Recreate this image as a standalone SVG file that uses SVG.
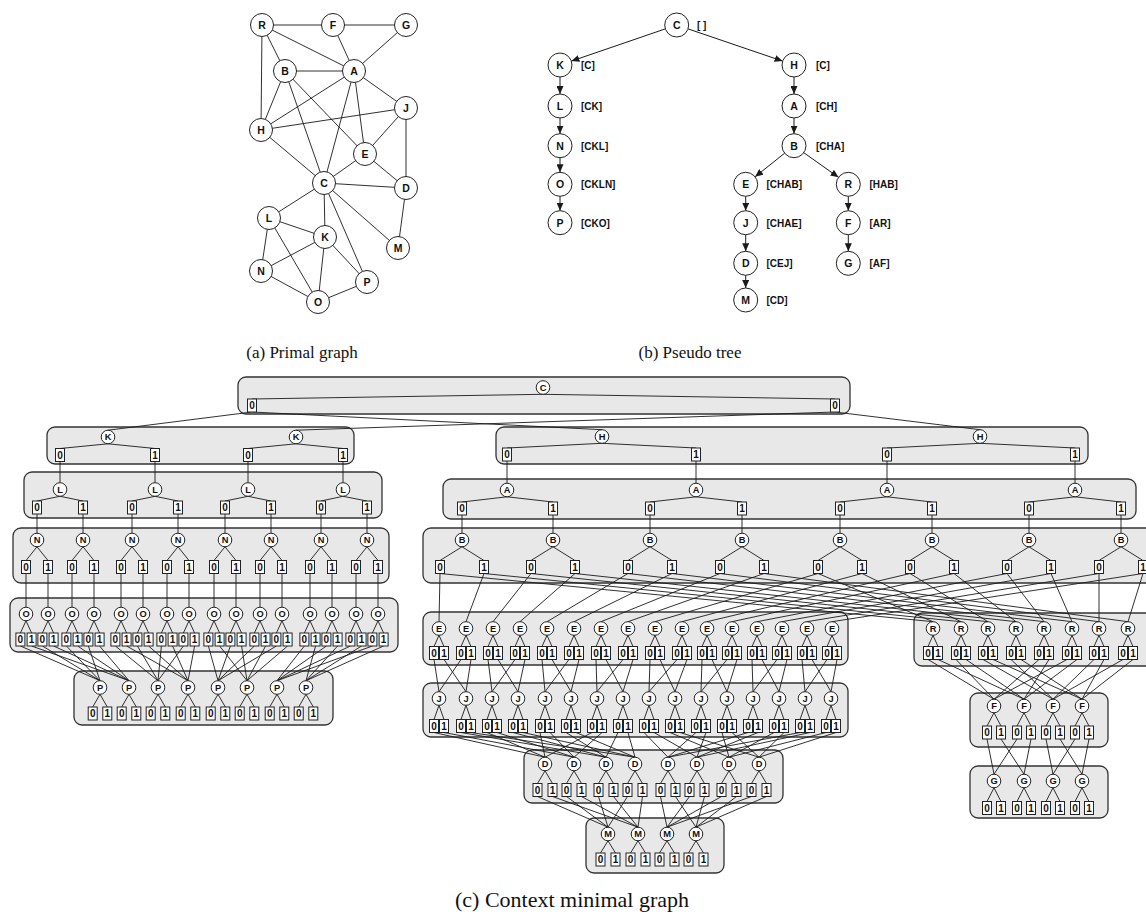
<svg xmlns="http://www.w3.org/2000/svg" width="1146" height="917" viewBox="0 0 1146 917">
<style>
text{font-family:"Liberation Sans",Arial,sans-serif;font-weight:bold;text-anchor:middle;fill:#111}
.pg circle,.pt circle{fill:#fff;stroke:#222;stroke-width:1}
.pg text,.pt text{font-size:10.5px}
.pt .lb{text-anchor:start;font-size:10px}
.cap{font-family:"Liberation Serif","Times New Roman",serif;font-weight:normal;font-size:17px}
.lay rect{fill:#e8e8e8;stroke:#333;stroke-width:1.3}
.cm circle{fill:#fff;stroke:#222;stroke-width:1}
.cm rect{fill:#fff;stroke:#222;stroke-width:1}
.cm text{font-size:10px}
.cm .s{font-size:9.3px}
.ln{fill:none;stroke:#1a1a1a;stroke-width:0.9}
.ar{fill:none;stroke:#1a1a1a;stroke-width:1;marker-end:url(#ah)}
</style>
<defs>
<marker id="ah" markerUnits="userSpaceOnUse" markerWidth="8" markerHeight="7" refX="8" refY="3.5" orient="auto"><path d="M0,0L8,3.5L0,7z" fill="#1a1a1a"/></marker>
</defs>
<rect width="1146" height="917" fill="#fff"/>

<!-- (a) Primal graph -->
<g id="primal-edges" class="ln">
<path d="M262 25L333 25M333 25L406 25M262 25L285 71M262 25L354 71M262 25L261 130M333 25L354 71M406 25L354 71M285 71L354 71M285 71L261 130M285 71L324 183M285 71L365 154M354 71L261 130M354 71L324 183M354 71L365 154M354 71L406 108M261 130L406 108M261 130L324 183M406 108L365 154M406 108L406 188M365 154L324 183M365 154L406 188M324 183L406 188M324 183L269 218M324 183L325 237M324 183L367 282M324 183L398 248M406 188L398 248M269 218L325 237M269 218L261 271M269 218L318 302M325 237L261 271M325 237L318 302M325 237L367 282M261 271L318 302M318 302L367 282"/>
</g>
<g class="pg">
<g id="a-R"><circle cx="262" cy="25" r="11.5"/><text x="262" y="28.8">R</text></g>
<g id="a-F"><circle cx="333" cy="25" r="11.5"/><text x="333" y="28.8">F</text></g>
<g id="a-G"><circle cx="406" cy="25" r="11.5"/><text x="406" y="28.8">G</text></g>
<g id="a-B"><circle cx="285" cy="71" r="11.5"/><text x="285" y="74.8">B</text></g>
<g id="a-A"><circle cx="354" cy="71" r="11.5"/><text x="354" y="74.8">A</text></g>
<g id="a-J"><circle cx="406" cy="108" r="11.5"/><text x="406" y="111.8">J</text></g>
<g id="a-H"><circle cx="261" cy="130" r="11.5"/><text x="261" y="133.8">H</text></g>
<g id="a-E"><circle cx="365" cy="154" r="11.5"/><text x="365" y="157.8">E</text></g>
<g id="a-C"><circle cx="324" cy="183" r="11.5"/><text x="324" y="186.8">C</text></g>
<g id="a-D"><circle cx="406" cy="188" r="11.5"/><text x="406" y="191.8">D</text></g>
<g id="a-L"><circle cx="269" cy="218" r="11.5"/><text x="269" y="221.8">L</text></g>
<g id="a-K"><circle cx="325" cy="237" r="11.5"/><text x="325" y="240.8">K</text></g>
<g id="a-M"><circle cx="398" cy="248" r="11.5"/><text x="398" y="251.8">M</text></g>
<g id="a-N"><circle cx="261" cy="271" r="11.5"/><text x="261" y="274.8">N</text></g>
<g id="a-P"><circle cx="367" cy="282" r="11.5"/><text x="367" y="285.8">P</text></g>
<g id="a-O"><circle cx="318" cy="302" r="11.5"/><text x="318" y="305.8">O</text></g>
</g>
<text class="cap" x="302" y="358">(a)  Primal graph</text>

<!-- (b) Pseudo tree -->
<g id="pseudo-edges">
<path class="ar" d="M665.3 28.9L571.4 61.1"/>
<path class="ar" d="M688.1 28.9L782.6 61.1"/>
<path class="ar" d="M560 77L560 94"/>
<path class="ar" d="M560 118L560 133.7"/>
<path class="ar" d="M560 157.7L560 172.3"/>
<path class="ar" d="M560 196.3L560 210.7"/>
<path class="ar" d="M794 77L794 94"/>
<path class="ar" d="M794 118L794 133.7"/>
<path class="ar" d="M784.6 153.2L755.1 176.8"/>
<path class="ar" d="M803.8 152.7L838.5 177.3"/>
<path class="ar" d="M745.7 196.3L745.7 210.7"/>
<path class="ar" d="M745.7 234.7L745.7 251.3"/>
<path class="ar" d="M745.7 275.3L745.7 288"/>
<path class="ar" d="M848.3 196.3L848.3 210.7"/>
<path class="ar" d="M848.3 234.7L848.3 251.3"/>
</g>
<g class="pt">
<g id="b-C"><circle cx="676.7" cy="25" r="12"/><text x="676.7" y="28.8">C</text><text class="lb" x="697" y="28.8">[ ]</text></g>
<g id="b-K"><circle cx="560" cy="65" r="12"/><text x="560" y="68.8">K</text><text class="lb" x="581" y="68.8">[C]</text></g>
<g id="b-L"><circle cx="560" cy="106" r="12"/><text x="560" y="109.8">L</text><text class="lb" x="581" y="109.8">[CK]</text></g>
<g id="b-N"><circle cx="560" cy="145.7" r="12"/><text x="560" y="149.5">N</text><text class="lb" x="581" y="149.5">[CKL]</text></g>
<g id="b-O"><circle cx="560" cy="184.3" r="12"/><text x="560" y="188.1">O</text><text class="lb" x="581" y="188.1">[CKLN]</text></g>
<g id="b-P"><circle cx="560" cy="222.7" r="12"/><text x="560" y="226.5">P</text><text class="lb" x="581" y="226.5">[CKO]</text></g>
<g id="b-H"><circle cx="794" cy="65" r="12"/><text x="794" y="68.8">H</text><text class="lb" x="816" y="68.8">[C]</text></g>
<g id="b-A"><circle cx="794" cy="106" r="12"/><text x="794" y="109.8">A</text><text class="lb" x="816" y="109.8">[CH]</text></g>
<g id="b-B"><circle cx="794" cy="145.7" r="12"/><text x="794" y="149.5">B</text><text class="lb" x="816" y="149.5">[CHA]</text></g>
<g id="b-E"><circle cx="745.7" cy="184.3" r="12"/><text x="745.7" y="188.1">E</text><text class="lb" x="766.5" y="188.1">[CHAB]</text></g>
<g id="b-J"><circle cx="745.7" cy="222.7" r="12"/><text x="745.7" y="226.5">J</text><text class="lb" x="766.5" y="226.5">[CHAE]</text></g>
<g id="b-D"><circle cx="745.7" cy="263.3" r="12"/><text x="745.7" y="267.1">D</text><text class="lb" x="766.5" y="267.1">[CEJ]</text></g>
<g id="b-M"><circle cx="745.7" cy="300" r="12"/><text x="745.7" y="303.8">M</text><text class="lb" x="766.5" y="303.8">[CD]</text></g>
<g id="b-R"><circle cx="848.3" cy="184.3" r="12"/><text x="848.3" y="188.1">R</text><text class="lb" x="869.5" y="188.1">[HAB]</text></g>
<g id="b-F"><circle cx="848.3" cy="222.7" r="12"/><text x="848.3" y="226.5">F</text><text class="lb" x="869.5" y="226.5">[AR]</text></g>
<g id="b-G"><circle cx="848.3" cy="263.3" r="12"/><text x="848.3" y="267.1">G</text><text class="lb" x="869.5" y="267.1">[AF]</text></g>
</g>
<text class="cap" x="690" y="358">(b)  Pseudo tree</text>

<!-- (c) Context minimal graph -->
<g id="layers" class="lay">
<rect id="lay-C" x="238" y="377" width="612" height="37" rx="8"/>
<rect id="lay-K" x="47" y="427" width="307" height="37" rx="8"/>
<rect id="lay-L" x="24" y="472" width="358" height="46" rx="8"/>
<rect id="lay-N" x="13" y="528" width="376" height="55" rx="8"/>
<rect id="lay-O" x="10" y="598" width="388" height="54" rx="8"/>
<rect id="lay-P" x="74" y="671" width="259" height="54" rx="8"/>
<rect id="lay-H" x="496" y="427" width="592" height="37" rx="8"/>
<rect id="lay-A" x="443" y="479" width="693" height="40" rx="8"/>
<rect id="lay-B" x="423" y="528" width="740" height="55" rx="8"/>
<rect id="lay-E" x="423" y="612" width="425" height="53" rx="8"/>
<rect id="lay-R" x="914" y="613" width="240" height="53" rx="8"/>
<rect id="lay-J" x="423" y="683" width="425" height="54" rx="8"/>
<rect id="lay-F" x="970" y="693" width="138" height="54" rx="8"/>
<rect id="lay-G" x="970" y="766" width="138" height="52" rx="8"/>
<rect id="lay-D" x="524" y="750" width="259" height="53" rx="8"/>
<rect id="lay-M" x="586" y="818" width="138" height="55" rx="8"/>
</g>

<g id="connectors" class="ln">
<path d="M543 394.3L252 399M543 394.3L835 399M252 412L108 430.2M252 412L602 429.7M835 412L296 430.2M835 412L980 429.7"/>
<path d="M108 443.8L60 448.5M108 443.8L155 448.5M296 443.8L248 448.5M296 443.8L343 448.5M60 461.5V482.7M155 461.5V482.7M248 461.5V482.7M343 461.5V482.7"/>
<path d="M60 496.3L37 501M60 496.3L83 501M155 496.3L132 501M155 496.3L178 501M248 496.3L225 501M248 496.3L271 501M343 496.3L321 501M343 496.3L367 501M37 514V533.2M83 514V533.2M132 514V533.2M178 514V533.2M225 514V533.2M271 514V533.2M321 514V533.2M367 514V533.2"/>
<path d="M37 546.8L26 560.5M37 546.8L48 560.5M83 546.8L72 560.5M83 546.8L94 560.5M132 546.8L121 560.5M132 546.8L143 560.5M178 546.8L167 560.5M178 546.8L189 560.5M225 546.8L214 560.5M225 546.8L236 560.5M271 546.8L260 560.5M271 546.8L282 560.5M321 546.8L310 560.5M321 546.8L332 560.5M367 546.8L356 560.5M367 546.8L378 560.5"/>
<path d="M26 573.5V607.2M48 573.5V607.2M72 573.5V607.2M94 573.5V607.2M121 573.5V607.2M143 573.5V607.2M167 573.5V607.2M189 573.5V607.2M214 573.5V607.2M236 573.5V607.2M260 573.5V607.2M282 573.5V607.2M310 573.5V607.2M332 573.5V607.2M356 573.5V607.2M378 573.5V607.2"/>
<path d="M26 620.8L20.4 633M26 620.8L31.6 633M48 620.8L42.4 633M48 620.8L53.6 633M72 620.8L66.4 633M72 620.8L77.6 633M94 620.8L88.4 633M94 620.8L99.6 633M121 620.8L115.4 633M121 620.8L126.6 633M143 620.8L137.4 633M143 620.8L148.6 633M167 620.8L161.4 633M167 620.8L172.6 633M189 620.8L183.4 633M189 620.8L194.6 633M214 620.8L208.4 633M214 620.8L219.6 633M236 620.8L230.4 633M236 620.8L241.6 633M260 620.8L254.4 633M260 620.8L265.6 633M282 620.8L276.4 633M282 620.8L287.6 633M310 620.8L304.4 633M310 620.8L315.6 633M332 620.8L326.4 633M332 620.8L337.6 633M356 620.8L350.4 633M356 620.8L361.6 633M378 620.8L372.4 633M378 620.8L383.6 633"/>
<path d="M20.4 646L100 680.7M42.4 646L100 680.7M66.4 646L100 680.7M88.4 646L100 680.7M31.6 646L129 680.7M53.6 646L129 680.7M77.6 646L129 680.7M99.6 646L129 680.7M115.4 646L158 680.7M137.4 646L158 680.7M161.4 646L158 680.7M183.4 646L158 680.7M126.6 646L188 680.7M148.6 646L188 680.7M172.6 646L188 680.7M194.6 646L188 680.7M208.4 646L218 680.7M230.4 646L218 680.7M254.4 646L218 680.7M276.4 646L218 680.7M219.6 646L247 680.7M241.6 646L247 680.7M265.6 646L247 680.7M287.6 646L247 680.7M304.4 646L277 680.7M326.4 646L277 680.7M350.4 646L277 680.7M372.4 646L277 680.7M315.6 646L306 680.7M337.6 646L306 680.7M361.6 646L306 680.7M383.6 646L306 680.7"/>
<path d="M100 694.3L92.7 707M100 694.3L107.3 707M129 694.3L121.7 707M129 694.3L136.3 707M158 694.3L150.7 707M158 694.3L165.3 707M188 694.3L180.7 707M188 694.3L195.3 707M218 694.3L210.7 707M218 694.3L225.3 707M247 694.3L239.7 707M247 694.3L254.3 707M277 694.3L269.7 707M277 694.3L284.3 707M306 694.3L298.7 707M306 694.3L313.3 707"/>
<path d="M602 443.3L507 448M602 443.3L696 448M980 443.3L887 448M980 443.3L1075 448M507 461V483.2M696 461V483.2M887 461V483.2M1075 461V483.2"/>
<path d="M507 496.8L462 502M507 496.8L553 502M696 496.8L650 502M696 496.8L742 502M887 496.8L840 502M887 496.8L932 502M1075 496.8L1029 502M1075 496.8L1121 502M462 515V533.2M553 515V533.2M650 515V533.2M742 515V533.2M840 515V533.2M932 515V533.2M1029 515V533.2M1121 515V533.2"/>
<path d="M462 546.8L440 560.5M462 546.8L484 560.5M553 546.8L531 560.5M553 546.8L575 560.5M650 546.8L628 560.5M650 546.8L672 560.5M742 546.8L720 560.5M742 546.8L764 560.5M840 546.8L818 560.5M840 546.8L862 560.5M932 546.8L910 560.5M932 546.8L954 560.5M1029 546.8L1007 560.5M1029 546.8L1051 560.5M1121 546.8L1099 560.5M1121 546.8L1143 560.5"/>
<path d="M440 573.5L439 621.7M484 573.5L466 621.7M531 573.5L493 621.7M575 573.5L520 621.7M628 573.5L547 621.7M672 573.5L574 621.7M720 573.5L601 621.7M764 573.5L628 621.7M818 573.5L655 621.7M862 573.5L682 621.7M910 573.5L707 621.7M954 573.5L732 621.7M1007 573.5L757 621.7M1051 573.5L782 621.7M1099 573.5L807 621.7M1143 573.5L832 621.7"/>
<path d="M440 573.5L933 621.7M484 573.5L961 621.7M531 573.5L988 621.7M575 573.5L1016 621.7M628 573.5L1044 621.7M672 573.5L1072 621.7M720 573.5L1099 621.7M764 573.5L1128 621.7M818 573.5L933 621.7M862 573.5L961 621.7M910 573.5L988 621.7M954 573.5L1016 621.7M1007 573.5L1044 621.7M1051 573.5L1072 621.7M1099 573.5L1099 621.7M1143 573.5L1128 621.7"/>
<path d="M439 635.3L434 646.5M439 635.3L444 646.5M466 635.3L461 646.5M466 635.3L471 646.5M493 635.3L488 646.5M493 635.3L498 646.5M520 635.3L515 646.5M520 635.3L525 646.5M547 635.3L542 646.5M547 635.3L552 646.5M574 635.3L569 646.5M574 635.3L579 646.5M601 635.3L596 646.5M601 635.3L606 646.5M628 635.3L623 646.5M628 635.3L633 646.5M655 635.3L650 646.5M655 635.3L660 646.5M682 635.3L677 646.5M682 635.3L687 646.5M707 635.3L702 646.5M707 635.3L712 646.5M732 635.3L727 646.5M732 635.3L737 646.5M757 635.3L752 646.5M757 635.3L762 646.5M782 635.3L777 646.5M782 635.3L787 646.5M807 635.3L802 646.5M807 635.3L812 646.5M832 635.3L827 646.5M832 635.3L837 646.5"/>
<path d="M933 635.3L928 646.5M933 635.3L938 646.5M961 635.3L956 646.5M961 635.3L966 646.5M988 635.3L983 646.5M988 635.3L993 646.5M1016 635.3L1011 646.5M1016 635.3L1021 646.5M1044 635.3L1039 646.5M1044 635.3L1049 646.5M1072 635.3L1067 646.5M1072 635.3L1077 646.5M1099 635.3L1094 646.5M1099 635.3L1104 646.5M1128 635.3L1123 646.5M1128 635.3L1133 646.5"/>
<path d="M434 659.5L439 691.7M444 659.5L466 691.7M461 659.5L439 691.7M471 659.5L466 691.7M488 659.5L492 691.7M498 659.5L518 691.7M515 659.5L492 691.7M525 659.5L518 691.7M542 659.5L545 691.7M552 659.5L571 691.7M569 659.5L545 691.7M579 659.5L571 691.7M596 659.5L597 691.7M606 659.5L623 691.7M623 659.5L597 691.7M633 659.5L623 691.7M650 659.5L649 691.7M660 659.5L675 691.7M677 659.5L649 691.7M687 659.5L675 691.7M702 659.5L701 691.7M712 659.5L727 691.7M727 659.5L701 691.7M737 659.5L727 691.7M752 659.5L753 691.7M762 659.5L779 691.7M777 659.5L753 691.7M787 659.5L779 691.7M802 659.5L805 691.7M812 659.5L831 691.7M827 659.5L805 691.7M837 659.5L831 691.7"/>
<path d="M928 659.5L994 699.2M938 659.5L1024 699.2M956 659.5L994 699.2M966 659.5L1024 699.2M983 659.5L1053 699.2M993 659.5L1082 699.2M1011 659.5L1053 699.2M1021 659.5L1082 699.2M1039 659.5L994 699.2M1049 659.5L1024 699.2M1067 659.5L994 699.2M1077 659.5L1024 699.2M1094 659.5L1053 699.2M1104 659.5L1082 699.2M1123 659.5L1053 699.2M1133 659.5L1082 699.2"/>
<path d="M994 712.8L987 726M994 712.8L1001 726M1024 712.8L1017 726M1024 712.8L1031 726M1053 712.8L1046 726M1053 712.8L1060 726M1082 712.8L1075 726M1082 712.8L1089 726M987 739L994 774.2M1001 739L1024 774.2M1017 739L994 774.2M1031 739L1024 774.2M1046 739L1053 774.2M1060 739L1082 774.2M1075 739L1053 774.2M1089 739L1082 774.2M994 787.8L987 801.5M994 787.8L1001 801.5M1024 787.8L1017 801.5M1024 787.8L1031 801.5M1053 787.8L1046 801.5M1053 787.8L1060 801.5M1082 787.8L1075 801.5M1082 787.8L1089 801.5"/>
<path d="M439 705.3L434 719.5M439 705.3L444 719.5M466 705.3L461 719.5M466 705.3L471 719.5M492 705.3L487 719.5M492 705.3L497 719.5M518 705.3L513 719.5M518 705.3L523 719.5M545 705.3L540 719.5M545 705.3L550 719.5M571 705.3L566 719.5M571 705.3L576 719.5M597 705.3L592 719.5M597 705.3L602 719.5M623 705.3L618 719.5M623 705.3L628 719.5M649 705.3L644 719.5M649 705.3L654 719.5M675 705.3L670 719.5M675 705.3L680 719.5M701 705.3L696 719.5M701 705.3L706 719.5M727 705.3L722 719.5M727 705.3L732 719.5M753 705.3L748 719.5M753 705.3L758 719.5M779 705.3L774 719.5M779 705.3L784 719.5M805 705.3L800 719.5M805 705.3L810 719.5M831 705.3L826 719.5M831 705.3L836 719.5"/>
<path d="M434 732.5L545 757.2M444 732.5L574 757.2M461 732.5L606 757.2M471 732.5L635 757.2M487 732.5L545 757.2M497 732.5L574 757.2M513 732.5L606 757.2M523 732.5L635 757.2M540 732.5L545 757.2M550 732.5L574 757.2M566 732.5L606 757.2M576 732.5L635 757.2M592 732.5L545 757.2M602 732.5L574 757.2M618 732.5L606 757.2M628 732.5L635 757.2M644 732.5L668 757.2M654 732.5L697 757.2M670 732.5L729 757.2M680 732.5L759 757.2M696 732.5L668 757.2M706 732.5L697 757.2M722 732.5L729 757.2M732 732.5L759 757.2M748 732.5L668 757.2M758 732.5L697 757.2M774 732.5L729 757.2M784 732.5L759 757.2M800 732.5L668 757.2M810 732.5L697 757.2M826 732.5L729 757.2M836 732.5L759 757.2"/>
<path d="M545 770.8L537.5 783.5M545 770.8L552.5 783.5M574 770.8L566.5 783.5M574 770.8L581.5 783.5M606 770.8L598.5 783.5M606 770.8L613.5 783.5M635 770.8L627.5 783.5M635 770.8L642.5 783.5M668 770.8L660.5 783.5M668 770.8L675.5 783.5M697 770.8L689.5 783.5M697 770.8L704.5 783.5M729 770.8L721.5 783.5M729 770.8L736.5 783.5M759 770.8L751.5 783.5M759 770.8L766.5 783.5"/>
<path d="M537.5 796.5L608 827.2M552.5 796.5L638 827.2M566.5 796.5L608 827.2M581.5 796.5L638 827.2M598.5 796.5L608 827.2M613.5 796.5L638 827.2M627.5 796.5L608 827.2M642.5 796.5L638 827.2M660.5 796.5L667 827.2M675.5 796.5L696 827.2M689.5 796.5L667 827.2M704.5 796.5L696 827.2M721.5 796.5L667 827.2M736.5 796.5L696 827.2M751.5 796.5L667 827.2M766.5 796.5L696 827.2"/>
<path d="M608 840.8L600.5 853M608 840.8L615.5 853M638 840.8L630.5 853M638 840.8L645.5 853M667 840.8L659.5 853M667 840.8L674.5 853M696 840.8L688.5 853M696 840.8L703.5 853"/>
</g>

<g id="cm-nodes" class="cm">
<g id="cC1"><circle cx="543" cy="387.5" r="6.8"/><text class="s" x="543" y="390.8">C</text><rect x="247.5" y="399" width="9" height="13"/><text x="252" y="409.1">0</text><rect x="830.5" y="399" width="9" height="13"/><text x="835" y="409.1">0</text></g>

<g id="cK1"><circle cx="108" cy="437" r="6.8"/><text class="s" x="108" y="440.3">K</text><rect x="55.5" y="448.5" width="9" height="13"/><text x="60" y="458.6">0</text><rect x="150.5" y="448.5" width="9" height="13"/><text x="155" y="458.6">1</text></g>
<g id="cK2"><circle cx="296" cy="437" r="6.8"/><text class="s" x="296" y="440.3">K</text><rect x="243.5" y="448.5" width="9" height="13"/><text x="248" y="458.6">0</text><rect x="338.5" y="448.5" width="9" height="13"/><text x="343" y="458.6">1</text></g>

<g id="cL1"><circle cx="60" cy="489.5" r="6.8"/><text class="s" x="60" y="492.8">L</text><rect x="32.5" y="501" width="9" height="13"/><text x="37" y="511.1">0</text><rect x="78.5" y="501" width="9" height="13"/><text x="83" y="511.1">1</text></g>
<g id="cL2"><circle cx="155" cy="489.5" r="6.8"/><text class="s" x="155" y="492.8">L</text><rect x="127.5" y="501" width="9" height="13"/><text x="132" y="511.1">0</text><rect x="173.5" y="501" width="9" height="13"/><text x="178" y="511.1">1</text></g>
<g id="cL3"><circle cx="248" cy="489.5" r="6.8"/><text class="s" x="248" y="492.8">L</text><rect x="220.5" y="501" width="9" height="13"/><text x="225" y="511.1">0</text><rect x="266.5" y="501" width="9" height="13"/><text x="271" y="511.1">1</text></g>
<g id="cL4"><circle cx="343" cy="489.5" r="6.8"/><text class="s" x="343" y="492.8">L</text><rect x="316.5" y="501" width="9" height="13"/><text x="321" y="511.1">0</text><rect x="362.5" y="501" width="9" height="13"/><text x="367" y="511.1">1</text></g>

<g id="cN1"><circle cx="37" cy="540" r="6.8"/><text class="s" x="37" y="543.3">N</text><rect x="21.5" y="560.5" width="9" height="13"/><text x="26" y="570.6">0</text><rect x="43.5" y="560.5" width="9" height="13"/><text x="48" y="570.6">1</text></g>
<g id="cN2"><circle cx="83" cy="540" r="6.8"/><text class="s" x="83" y="543.3">N</text><rect x="67.5" y="560.5" width="9" height="13"/><text x="72" y="570.6">0</text><rect x="89.5" y="560.5" width="9" height="13"/><text x="94" y="570.6">1</text></g>
<g id="cN3"><circle cx="132" cy="540" r="6.8"/><text class="s" x="132" y="543.3">N</text><rect x="116.5" y="560.5" width="9" height="13"/><text x="121" y="570.6">0</text><rect x="138.5" y="560.5" width="9" height="13"/><text x="143" y="570.6">1</text></g>
<g id="cN4"><circle cx="178" cy="540" r="6.8"/><text class="s" x="178" y="543.3">N</text><rect x="162.5" y="560.5" width="9" height="13"/><text x="167" y="570.6">0</text><rect x="184.5" y="560.5" width="9" height="13"/><text x="189" y="570.6">1</text></g>
<g id="cN5"><circle cx="225" cy="540" r="6.8"/><text class="s" x="225" y="543.3">N</text><rect x="209.5" y="560.5" width="9" height="13"/><text x="214" y="570.6">0</text><rect x="231.5" y="560.5" width="9" height="13"/><text x="236" y="570.6">1</text></g>
<g id="cN6"><circle cx="271" cy="540" r="6.8"/><text class="s" x="271" y="543.3">N</text><rect x="255.5" y="560.5" width="9" height="13"/><text x="260" y="570.6">0</text><rect x="277.5" y="560.5" width="9" height="13"/><text x="282" y="570.6">1</text></g>
<g id="cN7"><circle cx="321" cy="540" r="6.8"/><text class="s" x="321" y="543.3">N</text><rect x="305.5" y="560.5" width="9" height="13"/><text x="310" y="570.6">0</text><rect x="327.5" y="560.5" width="9" height="13"/><text x="332" y="570.6">1</text></g>
<g id="cN8"><circle cx="367" cy="540" r="6.8"/><text class="s" x="367" y="543.3">N</text><rect x="351.5" y="560.5" width="9" height="13"/><text x="356" y="570.6">0</text><rect x="373.5" y="560.5" width="9" height="13"/><text x="378" y="570.6">1</text></g>

<g id="cO1"><circle cx="26" cy="614" r="6.8"/><text class="s" x="26" y="617.3">O</text><rect x="15.9" y="633" width="9" height="13"/><text x="20.4" y="643.1">0</text><rect x="27.1" y="633" width="9" height="13"/><text x="31.6" y="643.1">1</text></g>
<g id="cO2"><circle cx="48" cy="614" r="6.8"/><text class="s" x="48" y="617.3">O</text><rect x="37.9" y="633" width="9" height="13"/><text x="42.4" y="643.1">0</text><rect x="49.1" y="633" width="9" height="13"/><text x="53.6" y="643.1">1</text></g>
<g id="cO3"><circle cx="72" cy="614" r="6.8"/><text class="s" x="72" y="617.3">O</text><rect x="61.9" y="633" width="9" height="13"/><text x="66.4" y="643.1">0</text><rect x="73.1" y="633" width="9" height="13"/><text x="77.6" y="643.1">1</text></g>
<g id="cO4"><circle cx="94" cy="614" r="6.8"/><text class="s" x="94" y="617.3">O</text><rect x="83.9" y="633" width="9" height="13"/><text x="88.4" y="643.1">0</text><rect x="95.1" y="633" width="9" height="13"/><text x="99.6" y="643.1">1</text></g>
<g id="cO5"><circle cx="121" cy="614" r="6.8"/><text class="s" x="121" y="617.3">O</text><rect x="110.9" y="633" width="9" height="13"/><text x="115.4" y="643.1">0</text><rect x="122.1" y="633" width="9" height="13"/><text x="126.6" y="643.1">1</text></g>
<g id="cO6"><circle cx="143" cy="614" r="6.8"/><text class="s" x="143" y="617.3">O</text><rect x="132.9" y="633" width="9" height="13"/><text x="137.4" y="643.1">0</text><rect x="144.1" y="633" width="9" height="13"/><text x="148.6" y="643.1">1</text></g>
<g id="cO7"><circle cx="167" cy="614" r="6.8"/><text class="s" x="167" y="617.3">O</text><rect x="156.9" y="633" width="9" height="13"/><text x="161.4" y="643.1">0</text><rect x="168.1" y="633" width="9" height="13"/><text x="172.6" y="643.1">1</text></g>
<g id="cO8"><circle cx="189" cy="614" r="6.8"/><text class="s" x="189" y="617.3">O</text><rect x="178.9" y="633" width="9" height="13"/><text x="183.4" y="643.1">0</text><rect x="190.1" y="633" width="9" height="13"/><text x="194.6" y="643.1">1</text></g>
<g id="cO9"><circle cx="214" cy="614" r="6.8"/><text class="s" x="214" y="617.3">O</text><rect x="203.9" y="633" width="9" height="13"/><text x="208.4" y="643.1">0</text><rect x="215.1" y="633" width="9" height="13"/><text x="219.6" y="643.1">1</text></g>
<g id="cO10"><circle cx="236" cy="614" r="6.8"/><text class="s" x="236" y="617.3">O</text><rect x="225.9" y="633" width="9" height="13"/><text x="230.4" y="643.1">0</text><rect x="237.1" y="633" width="9" height="13"/><text x="241.6" y="643.1">1</text></g>
<g id="cO11"><circle cx="260" cy="614" r="6.8"/><text class="s" x="260" y="617.3">O</text><rect x="249.9" y="633" width="9" height="13"/><text x="254.4" y="643.1">0</text><rect x="261.1" y="633" width="9" height="13"/><text x="265.6" y="643.1">1</text></g>
<g id="cO12"><circle cx="282" cy="614" r="6.8"/><text class="s" x="282" y="617.3">O</text><rect x="271.9" y="633" width="9" height="13"/><text x="276.4" y="643.1">0</text><rect x="283.1" y="633" width="9" height="13"/><text x="287.6" y="643.1">1</text></g>
<g id="cO13"><circle cx="310" cy="614" r="6.8"/><text class="s" x="310" y="617.3">O</text><rect x="299.9" y="633" width="9" height="13"/><text x="304.4" y="643.1">0</text><rect x="311.1" y="633" width="9" height="13"/><text x="315.6" y="643.1">1</text></g>
<g id="cO14"><circle cx="332" cy="614" r="6.8"/><text class="s" x="332" y="617.3">O</text><rect x="321.9" y="633" width="9" height="13"/><text x="326.4" y="643.1">0</text><rect x="333.1" y="633" width="9" height="13"/><text x="337.6" y="643.1">1</text></g>
<g id="cO15"><circle cx="356" cy="614" r="6.8"/><text class="s" x="356" y="617.3">O</text><rect x="345.9" y="633" width="9" height="13"/><text x="350.4" y="643.1">0</text><rect x="357.1" y="633" width="9" height="13"/><text x="361.6" y="643.1">1</text></g>
<g id="cO16"><circle cx="378" cy="614" r="6.8"/><text class="s" x="378" y="617.3">O</text><rect x="367.9" y="633" width="9" height="13"/><text x="372.4" y="643.1">0</text><rect x="379.1" y="633" width="9" height="13"/><text x="383.6" y="643.1">1</text></g>

<g id="cP1"><circle cx="100" cy="687.5" r="6.8"/><text class="s" x="100" y="690.8">P</text><rect x="88.2" y="707" width="9" height="13"/><text x="92.7" y="717.1">0</text><rect x="102.8" y="707" width="9" height="13"/><text x="107.3" y="717.1">1</text></g>
<g id="cP2"><circle cx="129" cy="687.5" r="6.8"/><text class="s" x="129" y="690.8">P</text><rect x="117.2" y="707" width="9" height="13"/><text x="121.7" y="717.1">0</text><rect x="131.8" y="707" width="9" height="13"/><text x="136.3" y="717.1">1</text></g>
<g id="cP3"><circle cx="158" cy="687.5" r="6.8"/><text class="s" x="158" y="690.8">P</text><rect x="146.2" y="707" width="9" height="13"/><text x="150.7" y="717.1">0</text><rect x="160.8" y="707" width="9" height="13"/><text x="165.3" y="717.1">1</text></g>
<g id="cP4"><circle cx="188" cy="687.5" r="6.8"/><text class="s" x="188" y="690.8">P</text><rect x="176.2" y="707" width="9" height="13"/><text x="180.7" y="717.1">0</text><rect x="190.8" y="707" width="9" height="13"/><text x="195.3" y="717.1">1</text></g>
<g id="cP5"><circle cx="218" cy="687.5" r="6.8"/><text class="s" x="218" y="690.8">P</text><rect x="206.2" y="707" width="9" height="13"/><text x="210.7" y="717.1">0</text><rect x="220.8" y="707" width="9" height="13"/><text x="225.3" y="717.1">1</text></g>
<g id="cP6"><circle cx="247" cy="687.5" r="6.8"/><text class="s" x="247" y="690.8">P</text><rect x="235.2" y="707" width="9" height="13"/><text x="239.7" y="717.1">0</text><rect x="249.8" y="707" width="9" height="13"/><text x="254.3" y="717.1">1</text></g>
<g id="cP7"><circle cx="277" cy="687.5" r="6.8"/><text class="s" x="277" y="690.8">P</text><rect x="265.2" y="707" width="9" height="13"/><text x="269.7" y="717.1">0</text><rect x="279.8" y="707" width="9" height="13"/><text x="284.3" y="717.1">1</text></g>
<g id="cP8"><circle cx="306" cy="687.5" r="6.8"/><text class="s" x="306" y="690.8">P</text><rect x="294.2" y="707" width="9" height="13"/><text x="298.7" y="717.1">0</text><rect x="308.8" y="707" width="9" height="13"/><text x="313.3" y="717.1">1</text></g>

<g id="cH1"><circle cx="602" cy="436.5" r="6.8"/><text class="s" x="602" y="439.8">H</text><rect x="502.5" y="448" width="9" height="13"/><text x="507" y="458.1">0</text><rect x="691.5" y="448" width="9" height="13"/><text x="696" y="458.1">1</text></g>
<g id="cH2"><circle cx="980" cy="436.5" r="6.8"/><text class="s" x="980" y="439.8">H</text><rect x="882.5" y="448" width="9" height="13"/><text x="887" y="458.1">0</text><rect x="1070.5" y="448" width="9" height="13"/><text x="1075" y="458.1">1</text></g>

<g id="cA1"><circle cx="507" cy="490" r="6.8"/><text class="s" x="507" y="493.3">A</text><rect x="457.5" y="502" width="9" height="13"/><text x="462" y="512.1">0</text><rect x="548.5" y="502" width="9" height="13"/><text x="553" y="512.1">1</text></g>
<g id="cA2"><circle cx="696" cy="490" r="6.8"/><text class="s" x="696" y="493.3">A</text><rect x="645.5" y="502" width="9" height="13"/><text x="650" y="512.1">0</text><rect x="737.5" y="502" width="9" height="13"/><text x="742" y="512.1">1</text></g>
<g id="cA3"><circle cx="887" cy="490" r="6.8"/><text class="s" x="887" y="493.3">A</text><rect x="835.5" y="502" width="9" height="13"/><text x="840" y="512.1">0</text><rect x="927.5" y="502" width="9" height="13"/><text x="932" y="512.1">1</text></g>
<g id="cA4"><circle cx="1075" cy="490" r="6.8"/><text class="s" x="1075" y="493.3">A</text><rect x="1024.5" y="502" width="9" height="13"/><text x="1029" y="512.1">0</text><rect x="1116.5" y="502" width="9" height="13"/><text x="1121" y="512.1">1</text></g>

<g id="cB1"><circle cx="462" cy="540" r="6.8"/><text class="s" x="462" y="543.3">B</text><rect x="435.5" y="560.5" width="9" height="13"/><text x="440" y="570.6">0</text><rect x="479.5" y="560.5" width="9" height="13"/><text x="484" y="570.6">1</text></g>
<g id="cB2"><circle cx="553" cy="540" r="6.8"/><text class="s" x="553" y="543.3">B</text><rect x="526.5" y="560.5" width="9" height="13"/><text x="531" y="570.6">0</text><rect x="570.5" y="560.5" width="9" height="13"/><text x="575" y="570.6">1</text></g>
<g id="cB3"><circle cx="650" cy="540" r="6.8"/><text class="s" x="650" y="543.3">B</text><rect x="623.5" y="560.5" width="9" height="13"/><text x="628" y="570.6">0</text><rect x="667.5" y="560.5" width="9" height="13"/><text x="672" y="570.6">1</text></g>
<g id="cB4"><circle cx="742" cy="540" r="6.8"/><text class="s" x="742" y="543.3">B</text><rect x="715.5" y="560.5" width="9" height="13"/><text x="720" y="570.6">0</text><rect x="759.5" y="560.5" width="9" height="13"/><text x="764" y="570.6">1</text></g>
<g id="cB5"><circle cx="840" cy="540" r="6.8"/><text class="s" x="840" y="543.3">B</text><rect x="813.5" y="560.5" width="9" height="13"/><text x="818" y="570.6">0</text><rect x="857.5" y="560.5" width="9" height="13"/><text x="862" y="570.6">1</text></g>
<g id="cB6"><circle cx="932" cy="540" r="6.8"/><text class="s" x="932" y="543.3">B</text><rect x="905.5" y="560.5" width="9" height="13"/><text x="910" y="570.6">0</text><rect x="949.5" y="560.5" width="9" height="13"/><text x="954" y="570.6">1</text></g>
<g id="cB7"><circle cx="1029" cy="540" r="6.8"/><text class="s" x="1029" y="543.3">B</text><rect x="1002.5" y="560.5" width="9" height="13"/><text x="1007" y="570.6">0</text><rect x="1046.5" y="560.5" width="9" height="13"/><text x="1051" y="570.6">1</text></g>
<g id="cB8"><circle cx="1121" cy="540" r="6.8"/><text class="s" x="1121" y="543.3">B</text><rect x="1094.5" y="560.5" width="9" height="13"/><text x="1099" y="570.6">0</text><rect x="1138.5" y="560.5" width="9" height="13"/><text x="1143" y="570.6">1</text></g>

<g id="cE1"><circle cx="439" cy="628.5" r="6.8"/><text class="s" x="439" y="631.8">E</text><rect x="429.5" y="646.5" width="9" height="13"/><text x="434" y="656.6">0</text><rect x="439.5" y="646.5" width="9" height="13"/><text x="444" y="656.6">1</text></g>
<g id="cE2"><circle cx="466" cy="628.5" r="6.8"/><text class="s" x="466" y="631.8">E</text><rect x="456.5" y="646.5" width="9" height="13"/><text x="461" y="656.6">0</text><rect x="466.5" y="646.5" width="9" height="13"/><text x="471" y="656.6">1</text></g>
<g id="cE3"><circle cx="493" cy="628.5" r="6.8"/><text class="s" x="493" y="631.8">E</text><rect x="483.5" y="646.5" width="9" height="13"/><text x="488" y="656.6">0</text><rect x="493.5" y="646.5" width="9" height="13"/><text x="498" y="656.6">1</text></g>
<g id="cE4"><circle cx="520" cy="628.5" r="6.8"/><text class="s" x="520" y="631.8">E</text><rect x="510.5" y="646.5" width="9" height="13"/><text x="515" y="656.6">0</text><rect x="520.5" y="646.5" width="9" height="13"/><text x="525" y="656.6">1</text></g>
<g id="cE5"><circle cx="547" cy="628.5" r="6.8"/><text class="s" x="547" y="631.8">E</text><rect x="537.5" y="646.5" width="9" height="13"/><text x="542" y="656.6">0</text><rect x="547.5" y="646.5" width="9" height="13"/><text x="552" y="656.6">1</text></g>
<g id="cE6"><circle cx="574" cy="628.5" r="6.8"/><text class="s" x="574" y="631.8">E</text><rect x="564.5" y="646.5" width="9" height="13"/><text x="569" y="656.6">0</text><rect x="574.5" y="646.5" width="9" height="13"/><text x="579" y="656.6">1</text></g>
<g id="cE7"><circle cx="601" cy="628.5" r="6.8"/><text class="s" x="601" y="631.8">E</text><rect x="591.5" y="646.5" width="9" height="13"/><text x="596" y="656.6">0</text><rect x="601.5" y="646.5" width="9" height="13"/><text x="606" y="656.6">1</text></g>
<g id="cE8"><circle cx="628" cy="628.5" r="6.8"/><text class="s" x="628" y="631.8">E</text><rect x="618.5" y="646.5" width="9" height="13"/><text x="623" y="656.6">0</text><rect x="628.5" y="646.5" width="9" height="13"/><text x="633" y="656.6">1</text></g>
<g id="cE9"><circle cx="655" cy="628.5" r="6.8"/><text class="s" x="655" y="631.8">E</text><rect x="645.5" y="646.5" width="9" height="13"/><text x="650" y="656.6">0</text><rect x="655.5" y="646.5" width="9" height="13"/><text x="660" y="656.6">1</text></g>
<g id="cE10"><circle cx="682" cy="628.5" r="6.8"/><text class="s" x="682" y="631.8">E</text><rect x="672.5" y="646.5" width="9" height="13"/><text x="677" y="656.6">0</text><rect x="682.5" y="646.5" width="9" height="13"/><text x="687" y="656.6">1</text></g>
<g id="cE11"><circle cx="707" cy="628.5" r="6.8"/><text class="s" x="707" y="631.8">E</text><rect x="697.5" y="646.5" width="9" height="13"/><text x="702" y="656.6">0</text><rect x="707.5" y="646.5" width="9" height="13"/><text x="712" y="656.6">1</text></g>
<g id="cE12"><circle cx="732" cy="628.5" r="6.8"/><text class="s" x="732" y="631.8">E</text><rect x="722.5" y="646.5" width="9" height="13"/><text x="727" y="656.6">0</text><rect x="732.5" y="646.5" width="9" height="13"/><text x="737" y="656.6">1</text></g>
<g id="cE13"><circle cx="757" cy="628.5" r="6.8"/><text class="s" x="757" y="631.8">E</text><rect x="747.5" y="646.5" width="9" height="13"/><text x="752" y="656.6">0</text><rect x="757.5" y="646.5" width="9" height="13"/><text x="762" y="656.6">1</text></g>
<g id="cE14"><circle cx="782" cy="628.5" r="6.8"/><text class="s" x="782" y="631.8">E</text><rect x="772.5" y="646.5" width="9" height="13"/><text x="777" y="656.6">0</text><rect x="782.5" y="646.5" width="9" height="13"/><text x="787" y="656.6">1</text></g>
<g id="cE15"><circle cx="807" cy="628.5" r="6.8"/><text class="s" x="807" y="631.8">E</text><rect x="797.5" y="646.5" width="9" height="13"/><text x="802" y="656.6">0</text><rect x="807.5" y="646.5" width="9" height="13"/><text x="812" y="656.6">1</text></g>
<g id="cE16"><circle cx="832" cy="628.5" r="6.8"/><text class="s" x="832" y="631.8">E</text><rect x="822.5" y="646.5" width="9" height="13"/><text x="827" y="656.6">0</text><rect x="832.5" y="646.5" width="9" height="13"/><text x="837" y="656.6">1</text></g>

<g id="cR1"><circle cx="933" cy="628.5" r="6.8"/><text class="s" x="933" y="631.8">R</text><rect x="923.5" y="646.5" width="9" height="13"/><text x="928" y="656.6">0</text><rect x="933.5" y="646.5" width="9" height="13"/><text x="938" y="656.6">1</text></g>
<g id="cR2"><circle cx="961" cy="628.5" r="6.8"/><text class="s" x="961" y="631.8">R</text><rect x="951.5" y="646.5" width="9" height="13"/><text x="956" y="656.6">0</text><rect x="961.5" y="646.5" width="9" height="13"/><text x="966" y="656.6">1</text></g>
<g id="cR3"><circle cx="988" cy="628.5" r="6.8"/><text class="s" x="988" y="631.8">R</text><rect x="978.5" y="646.5" width="9" height="13"/><text x="983" y="656.6">0</text><rect x="988.5" y="646.5" width="9" height="13"/><text x="993" y="656.6">1</text></g>
<g id="cR4"><circle cx="1016" cy="628.5" r="6.8"/><text class="s" x="1016" y="631.8">R</text><rect x="1006.5" y="646.5" width="9" height="13"/><text x="1011" y="656.6">0</text><rect x="1016.5" y="646.5" width="9" height="13"/><text x="1021" y="656.6">1</text></g>
<g id="cR5"><circle cx="1044" cy="628.5" r="6.8"/><text class="s" x="1044" y="631.8">R</text><rect x="1034.5" y="646.5" width="9" height="13"/><text x="1039" y="656.6">0</text><rect x="1044.5" y="646.5" width="9" height="13"/><text x="1049" y="656.6">1</text></g>
<g id="cR6"><circle cx="1072" cy="628.5" r="6.8"/><text class="s" x="1072" y="631.8">R</text><rect x="1062.5" y="646.5" width="9" height="13"/><text x="1067" y="656.6">0</text><rect x="1072.5" y="646.5" width="9" height="13"/><text x="1077" y="656.6">1</text></g>
<g id="cR7"><circle cx="1099" cy="628.5" r="6.8"/><text class="s" x="1099" y="631.8">R</text><rect x="1089.5" y="646.5" width="9" height="13"/><text x="1094" y="656.6">0</text><rect x="1099.5" y="646.5" width="9" height="13"/><text x="1104" y="656.6">1</text></g>
<g id="cR8"><circle cx="1128" cy="628.5" r="6.8"/><text class="s" x="1128" y="631.8">R</text><rect x="1118.5" y="646.5" width="9" height="13"/><text x="1123" y="656.6">0</text><rect x="1128.5" y="646.5" width="9" height="13"/><text x="1133" y="656.6">1</text></g>

<g id="cJ1"><circle cx="439" cy="698.5" r="6.8"/><text class="s" x="439" y="701.8">J</text><rect x="429.5" y="719.5" width="9" height="13"/><text x="434" y="729.6">0</text><rect x="439.5" y="719.5" width="9" height="13"/><text x="444" y="729.6">1</text></g>
<g id="cJ2"><circle cx="466" cy="698.5" r="6.8"/><text class="s" x="466" y="701.8">J</text><rect x="456.5" y="719.5" width="9" height="13"/><text x="461" y="729.6">0</text><rect x="466.5" y="719.5" width="9" height="13"/><text x="471" y="729.6">1</text></g>
<g id="cJ3"><circle cx="492" cy="698.5" r="6.8"/><text class="s" x="492" y="701.8">J</text><rect x="482.5" y="719.5" width="9" height="13"/><text x="487" y="729.6">0</text><rect x="492.5" y="719.5" width="9" height="13"/><text x="497" y="729.6">1</text></g>
<g id="cJ4"><circle cx="518" cy="698.5" r="6.8"/><text class="s" x="518" y="701.8">J</text><rect x="508.5" y="719.5" width="9" height="13"/><text x="513" y="729.6">0</text><rect x="518.5" y="719.5" width="9" height="13"/><text x="523" y="729.6">1</text></g>
<g id="cJ5"><circle cx="545" cy="698.5" r="6.8"/><text class="s" x="545" y="701.8">J</text><rect x="535.5" y="719.5" width="9" height="13"/><text x="540" y="729.6">0</text><rect x="545.5" y="719.5" width="9" height="13"/><text x="550" y="729.6">1</text></g>
<g id="cJ6"><circle cx="571" cy="698.5" r="6.8"/><text class="s" x="571" y="701.8">J</text><rect x="561.5" y="719.5" width="9" height="13"/><text x="566" y="729.6">0</text><rect x="571.5" y="719.5" width="9" height="13"/><text x="576" y="729.6">1</text></g>
<g id="cJ7"><circle cx="597" cy="698.5" r="6.8"/><text class="s" x="597" y="701.8">J</text><rect x="587.5" y="719.5" width="9" height="13"/><text x="592" y="729.6">0</text><rect x="597.5" y="719.5" width="9" height="13"/><text x="602" y="729.6">1</text></g>
<g id="cJ8"><circle cx="623" cy="698.5" r="6.8"/><text class="s" x="623" y="701.8">J</text><rect x="613.5" y="719.5" width="9" height="13"/><text x="618" y="729.6">0</text><rect x="623.5" y="719.5" width="9" height="13"/><text x="628" y="729.6">1</text></g>
<g id="cJ9"><circle cx="649" cy="698.5" r="6.8"/><text class="s" x="649" y="701.8">J</text><rect x="639.5" y="719.5" width="9" height="13"/><text x="644" y="729.6">0</text><rect x="649.5" y="719.5" width="9" height="13"/><text x="654" y="729.6">1</text></g>
<g id="cJ10"><circle cx="675" cy="698.5" r="6.8"/><text class="s" x="675" y="701.8">J</text><rect x="665.5" y="719.5" width="9" height="13"/><text x="670" y="729.6">0</text><rect x="675.5" y="719.5" width="9" height="13"/><text x="680" y="729.6">1</text></g>
<g id="cJ11"><circle cx="701" cy="698.5" r="6.8"/><text class="s" x="701" y="701.8">J</text><rect x="691.5" y="719.5" width="9" height="13"/><text x="696" y="729.6">0</text><rect x="701.5" y="719.5" width="9" height="13"/><text x="706" y="729.6">1</text></g>
<g id="cJ12"><circle cx="727" cy="698.5" r="6.8"/><text class="s" x="727" y="701.8">J</text><rect x="717.5" y="719.5" width="9" height="13"/><text x="722" y="729.6">0</text><rect x="727.5" y="719.5" width="9" height="13"/><text x="732" y="729.6">1</text></g>
<g id="cJ13"><circle cx="753" cy="698.5" r="6.8"/><text class="s" x="753" y="701.8">J</text><rect x="743.5" y="719.5" width="9" height="13"/><text x="748" y="729.6">0</text><rect x="753.5" y="719.5" width="9" height="13"/><text x="758" y="729.6">1</text></g>
<g id="cJ14"><circle cx="779" cy="698.5" r="6.8"/><text class="s" x="779" y="701.8">J</text><rect x="769.5" y="719.5" width="9" height="13"/><text x="774" y="729.6">0</text><rect x="779.5" y="719.5" width="9" height="13"/><text x="784" y="729.6">1</text></g>
<g id="cJ15"><circle cx="805" cy="698.5" r="6.8"/><text class="s" x="805" y="701.8">J</text><rect x="795.5" y="719.5" width="9" height="13"/><text x="800" y="729.6">0</text><rect x="805.5" y="719.5" width="9" height="13"/><text x="810" y="729.6">1</text></g>
<g id="cJ16"><circle cx="831" cy="698.5" r="6.8"/><text class="s" x="831" y="701.8">J</text><rect x="821.5" y="719.5" width="9" height="13"/><text x="826" y="729.6">0</text><rect x="831.5" y="719.5" width="9" height="13"/><text x="836" y="729.6">1</text></g>

<g id="cF1"><circle cx="994" cy="706" r="6.8"/><text class="s" x="994" y="709.3">F</text><rect x="982.5" y="726" width="9" height="13"/><text x="987" y="736.1">0</text><rect x="996.5" y="726" width="9" height="13"/><text x="1001" y="736.1">1</text></g>
<g id="cF2"><circle cx="1024" cy="706" r="6.8"/><text class="s" x="1024" y="709.3">F</text><rect x="1012.5" y="726" width="9" height="13"/><text x="1017" y="736.1">0</text><rect x="1026.5" y="726" width="9" height="13"/><text x="1031" y="736.1">1</text></g>
<g id="cF3"><circle cx="1053" cy="706" r="6.8"/><text class="s" x="1053" y="709.3">F</text><rect x="1041.5" y="726" width="9" height="13"/><text x="1046" y="736.1">0</text><rect x="1055.5" y="726" width="9" height="13"/><text x="1060" y="736.1">1</text></g>
<g id="cF4"><circle cx="1082" cy="706" r="6.8"/><text class="s" x="1082" y="709.3">F</text><rect x="1070.5" y="726" width="9" height="13"/><text x="1075" y="736.1">0</text><rect x="1084.5" y="726" width="9" height="13"/><text x="1089" y="736.1">1</text></g>

<g id="cG1"><circle cx="994" cy="781" r="6.8"/><text class="s" x="994" y="784.3">G</text><rect x="982.5" y="801.5" width="9" height="13"/><text x="987" y="811.6">0</text><rect x="996.5" y="801.5" width="9" height="13"/><text x="1001" y="811.6">1</text></g>
<g id="cG2"><circle cx="1024" cy="781" r="6.8"/><text class="s" x="1024" y="784.3">G</text><rect x="1012.5" y="801.5" width="9" height="13"/><text x="1017" y="811.6">0</text><rect x="1026.5" y="801.5" width="9" height="13"/><text x="1031" y="811.6">1</text></g>
<g id="cG3"><circle cx="1053" cy="781" r="6.8"/><text class="s" x="1053" y="784.3">G</text><rect x="1041.5" y="801.5" width="9" height="13"/><text x="1046" y="811.6">0</text><rect x="1055.5" y="801.5" width="9" height="13"/><text x="1060" y="811.6">1</text></g>
<g id="cG4"><circle cx="1082" cy="781" r="6.8"/><text class="s" x="1082" y="784.3">G</text><rect x="1070.5" y="801.5" width="9" height="13"/><text x="1075" y="811.6">0</text><rect x="1084.5" y="801.5" width="9" height="13"/><text x="1089" y="811.6">1</text></g>

<g id="cD1"><circle cx="545" cy="764" r="6.8"/><text class="s" x="545" y="767.3">D</text><rect x="533" y="783.5" width="9" height="13"/><text x="537.5" y="793.6">0</text><rect x="548" y="783.5" width="9" height="13"/><text x="552.5" y="793.6">1</text></g>
<g id="cD2"><circle cx="574" cy="764" r="6.8"/><text class="s" x="574" y="767.3">D</text><rect x="562" y="783.5" width="9" height="13"/><text x="566.5" y="793.6">0</text><rect x="577" y="783.5" width="9" height="13"/><text x="581.5" y="793.6">1</text></g>
<g id="cD3"><circle cx="606" cy="764" r="6.8"/><text class="s" x="606" y="767.3">D</text><rect x="594" y="783.5" width="9" height="13"/><text x="598.5" y="793.6">0</text><rect x="609" y="783.5" width="9" height="13"/><text x="613.5" y="793.6">1</text></g>
<g id="cD4"><circle cx="635" cy="764" r="6.8"/><text class="s" x="635" y="767.3">D</text><rect x="623" y="783.5" width="9" height="13"/><text x="627.5" y="793.6">0</text><rect x="638" y="783.5" width="9" height="13"/><text x="642.5" y="793.6">1</text></g>
<g id="cD5"><circle cx="668" cy="764" r="6.8"/><text class="s" x="668" y="767.3">D</text><rect x="656" y="783.5" width="9" height="13"/><text x="660.5" y="793.6">0</text><rect x="671" y="783.5" width="9" height="13"/><text x="675.5" y="793.6">1</text></g>
<g id="cD6"><circle cx="697" cy="764" r="6.8"/><text class="s" x="697" y="767.3">D</text><rect x="685" y="783.5" width="9" height="13"/><text x="689.5" y="793.6">0</text><rect x="700" y="783.5" width="9" height="13"/><text x="704.5" y="793.6">1</text></g>
<g id="cD7"><circle cx="729" cy="764" r="6.8"/><text class="s" x="729" y="767.3">D</text><rect x="717" y="783.5" width="9" height="13"/><text x="721.5" y="793.6">0</text><rect x="732" y="783.5" width="9" height="13"/><text x="736.5" y="793.6">1</text></g>
<g id="cD8"><circle cx="759" cy="764" r="6.8"/><text class="s" x="759" y="767.3">D</text><rect x="747" y="783.5" width="9" height="13"/><text x="751.5" y="793.6">0</text><rect x="762" y="783.5" width="9" height="13"/><text x="766.5" y="793.6">1</text></g>

<g id="cM1"><circle cx="608" cy="834" r="6.8"/><text class="s" x="608" y="837.3">M</text><rect x="596" y="853" width="9" height="13"/><text x="600.5" y="863.1">0</text><rect x="611" y="853" width="9" height="13"/><text x="615.5" y="863.1">1</text></g>
<g id="cM2"><circle cx="638" cy="834" r="6.8"/><text class="s" x="638" y="837.3">M</text><rect x="626" y="853" width="9" height="13"/><text x="630.5" y="863.1">0</text><rect x="641" y="853" width="9" height="13"/><text x="645.5" y="863.1">1</text></g>
<g id="cM3"><circle cx="667" cy="834" r="6.8"/><text class="s" x="667" y="837.3">M</text><rect x="655" y="853" width="9" height="13"/><text x="659.5" y="863.1">0</text><rect x="670" y="853" width="9" height="13"/><text x="674.5" y="863.1">1</text></g>
<g id="cM4"><circle cx="696" cy="834" r="6.8"/><text class="s" x="696" y="837.3">M</text><rect x="684" y="853" width="9" height="13"/><text x="688.5" y="863.1">0</text><rect x="699" y="853" width="9" height="13"/><text x="703.5" y="863.1">1</text></g>
</g>
<text class="cap" x="572" y="907" style="font-size:22px">(c)  Context minimal graph</text>
</svg>
